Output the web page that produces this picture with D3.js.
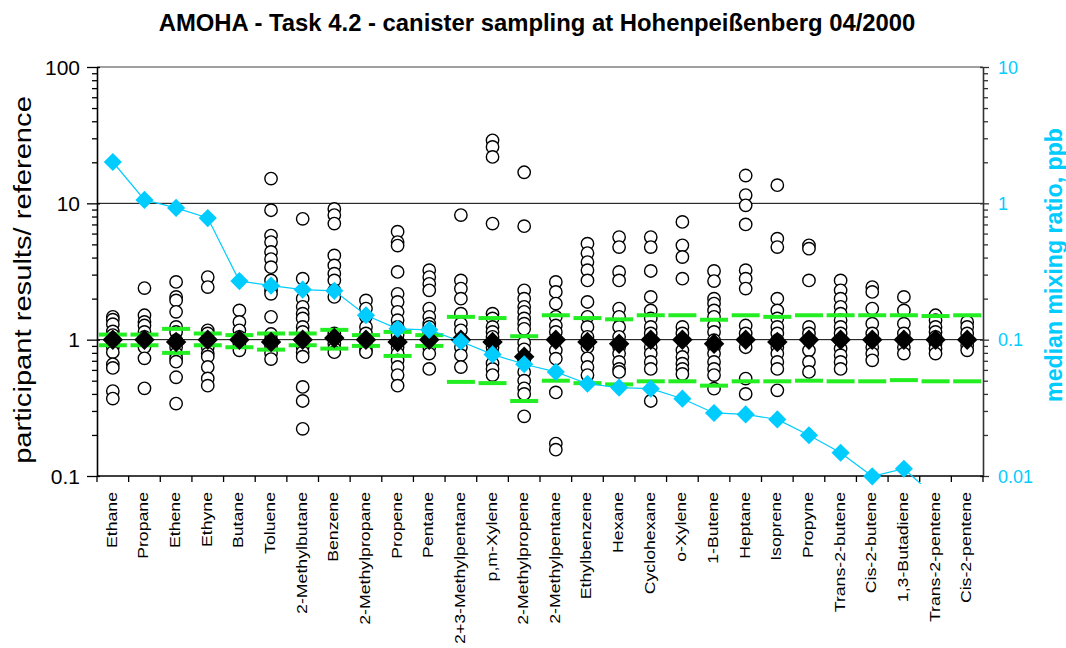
<!DOCTYPE html>
<html>
<head>
<meta charset="utf-8">
<script src="https://cdn.jsdelivr.net/npm/d3@7/dist/d3.min.js"></script>
<style>
  html, body { margin: 0; padding: 0; background: #fff; }
  svg { display: block; font-family: "Liberation Sans", Arial, sans-serif; }
</style>
</head>
<body>
<svg id="chart" width="1066" height="648"></svg>
<script>
// Compounds along the x axis
const categories = ["Ethane", "Propane", "Ethene", "Ethyne", "Butane", "Toluene", "2-Methylbutane",
  "Benzene", "2-Methylpropane", "Propene", "Pentane", "2+3-Methylpentane", "p,m-Xylene",
  "2-Methylpropene", "2-Methylpentane", "Ethylbenzene", "Hexane", "Cyclohexane", "o-Xylene",
  "1-Butene", "Heptane", "Isoprene", "Propyne", "Trans-2-butene", "Cis-2-butene", "1,3-Butadiene",
  "Trans-2-pentene", "Cis-2-pentene"];

// Participant results divided by the reference value, one list per compound
const participantRatios = [
  [1.47, 1.40, 1.30, 1.15, 1.08, 1.02, 0.97, 0.93, 0.88, 0.81, 0.66, 0.62, 0.42, 0.37],
  [2.39, 1.51, 1.35, 1.27, 1.14, 1.05, 0.96, 0.88, 0.73, 0.44],
  [2.65, 2.06, 1.94, 1.60, 1.24, 1.14, 0.99, 0.88, 0.79, 0.73, 0.69, 0.53, 0.34],
  [2.88, 2.43, 1.17, 1.11, 0.99, 0.88, 0.79, 0.75, 0.63, 0.52, 0.46],
  [1.64, 1.35, 1.17, 1.05, 0.99, 0.935, 0.835],
  [15.2, 8.9, 5.8, 5.2, 4.4, 3.9, 3.4, 2.72, 2.3, 2.17, 1.47, 1.1, 1.0, 0.9, 0.8, 0.72],
  [7.7, 2.8, 2.0, 1.74, 1.55, 1.43, 1.24, 1.14, 0.995, 0.88, 0.81, 0.75, 0.45, 0.355, 0.222],
  [9.1, 8.2, 7.1, 4.15, 3.5, 3.05, 2.72, 2.3, 2.06, 1.11, 1.02, 0.935, 0.86, 0.81],
  [1.94, 1.69, 1.47, 1.24, 1.11, 0.99, 0.91, 0.835, 0.81],
  [6.2, 5.2, 4.9, 3.14, 2.17, 1.89, 1.6, 1.39, 1.24, 1.08, 0.96, 0.88, 0.79, 0.705, 0.63, 0.55, 0.46],
  [3.23, 2.88, 2.57, 2.3, 1.69, 1.47, 1.31, 1.24, 1.11, 0.99, 0.88, 0.79, 0.61],
  [8.2, 2.72, 2.37, 2.0, 1.55, 1.31, 1.17, 0.99, 0.88, 0.77, 0.63],
  [29.0, 25.9, 21.9, 7.1, 1.55, 1.43, 1.24, 1.14, 1.05, 0.88, 0.79, 0.67, 0.61, 0.55],
  [16.9, 6.8, 2.3, 2.0, 1.74, 1.6, 1.43, 1.31, 1.2, 0.95, 0.85, 0.705, 0.58, 0.5, 0.44, 0.4, 0.274],
  [2.65, 2.24, 1.84, 1.47, 1.27, 1.14, 0.99, 0.835, 0.726, 0.41, 0.173, 0.156],
  [5.06, 4.32, 3.71, 3.23, 2.72, 1.89, 1.47, 1.24, 1.05, 0.88, 0.73, 0.63, 0.55],
  [5.66, 4.78, 3.14, 2.72, 1.69, 1.47, 1.24, 1.05, 0.88, 0.79, 0.686, 0.61, 0.58],
  [5.66, 4.78, 3.19, 2.06, 1.64, 1.43, 1.24, 1.11, 0.99, 0.88, 0.79, 0.686, 0.61, 0.355],
  [7.3, 4.92, 4.04, 2.8, 1.24, 1.11, 0.99, 0.835, 0.746, 0.667, 0.61, 0.56],
  [3.19, 2.69, 2.0, 1.84, 1.64, 1.47, 1.27, 1.14, 0.99, 0.88, 0.79, 0.686, 0.61, 0.55, 0.437],
  [16.0, 11.5, 9.67, 7.0, 3.23, 2.8, 2.37, 1.27, 1.11, 0.99, 0.88, 0.518, 0.40],
  [13.6, 5.5, 4.78, 2.0, 1.64, 1.43, 1.24, 1.11, 0.99, 0.88, 0.79, 0.686, 0.61, 0.425],
  [4.92, 4.65, 2.72, 1.24, 1.11, 0.99, 0.835, 0.686, 0.58],
  [2.72, 2.3, 2.0, 1.74, 1.55, 1.39, 1.24, 1.11, 0.99, 0.86, 0.77, 0.686, 0.61],
  [2.43, 2.24, 1.69, 1.31, 1.11, 0.99, 0.88, 0.79, 0.705],
  [2.06, 1.64, 1.31, 1.11, 0.99, 0.88, 0.79],
  [1.51, 1.39, 1.24, 1.14, 1.05, 0.935, 0.86, 0.79],
  [1.35, 1.24, 1.11, 0.99, 0.91, 0.835]
];

// Acceptance limits (upper / lower) per compound
const upperLimit = [1.09, 1.09, 1.20, 1.11, 1.08, 1.11, 1.11, 1.18, 1.08, 1.14, 1.08, 1.47, 1.44, 1.06,
  1.51, 1.44, 1.41, 1.51, 1.51, 1.40, 1.51, 1.47, 1.51, 1.51, 1.51, 1.51, 1.49, 1.51];
const lowerLimit = [0.91, 0.91, 0.80, 0.91, 0.88, 0.845, 0.91, 0.86, 0.90, 0.76, 0.90, 0.49, 0.48, 0.355,
  0.50, 0.48, 0.47, 0.495, 0.495, 0.46, 0.495, 0.495, 0.50, 0.495, 0.495, 0.505, 0.495, 0.495];

// Median of the participant ratios
const medianRatio = [1.0, 1.0, 0.96, 1.0, 1.0, 0.96, 1.0, 1.03, 1.0, 0.96, 1.0, 1.0, 0.96, 0.75,
  1.0, 0.96, 0.935, 1.0, 1.0, 0.935, 1.0, 0.96, 1.0, 1.0, 1.0, 1.0, 1.0, 1.0];

// Median mixing ratio in ppb (right axis)
const medianMixing = [2.01, 1.06, 0.925, 0.78, 0.269, 0.249, 0.233, 0.228, 0.151, 0.12, 0.118, 0.097,
  0.078, 0.066, 0.058, 0.0475, 0.0445, 0.0437, 0.0369, 0.029, 0.0283, 0.026, 0.0199, 0.0148, 0.00995,
  0.0113, 0.007, 0.006];

const leftTicks = [0.1, 1, 10, 100];
const rightTicks = [0.01, 0.1, 1, 10];

const svg = d3.select("#chart");
const plot = { left: 97, right: 983, top: 67, bottom: 476 };
const CYAN = "#00ccff";
const GREEN = "#22ee22";

const x = d3.scaleBand().domain(categories).range([plot.left, plot.right]);
const y = d3.scaleLog().domain([0.1, 100]).range([plot.bottom, plot.top]);
const yR = d3.scaleLog().domain([0.01, 10]).range([plot.bottom, plot.top]);
const cx = c => x(c) + x.bandwidth() / 2;

// Helper: stretch a text element along its own direction to a given length
function stretch(sel, tx, ty, rot, targetLen) {
  const len = sel.node().getComputedTextLength();
  const k = targetLen ? targetLen / len : 1;
  sel.attr("transform", `translate(${tx},${ty}) rotate(${rot}) scale(${k},1)`);
}

// Title
const title = svg.append("text")
  .attr("text-anchor", "middle")
  .attr("font-weight", "bold").attr("font-size", 23)
  .text("AMOHA - Task 4.2 - canister sampling at Hohenpeißenberg 04/2000");
stretch(title, 537, 31, 0, 757);

// Gridlines at decades
svg.append("g").selectAll("line")
  .data([1, 10]).join("line")
  .attr("x1", plot.left).attr("x2", plot.right)
  .attr("y1", d => y(d)).attr("y2", d => y(d))
  .attr("stroke", "#000").attr("stroke-width", 1);

// Top border of plot area
svg.append("line")
  .attr("x1", plot.left).attr("x2", plot.right)
  .attr("y1", plot.top).attr("y2", plot.top)
  .attr("stroke", "#808080").attr("stroke-width", 1.5);

// Minor tick values for the log axes
function logTicks(domain) {
  const out = [];
  for (let e = Math.log10(domain[0]); e < Math.log10(domain[1]); e++) {
    for (let m = 1; m < 10; m++) out.push(m * Math.pow(10, e));
  }
  out.push(domain[1]);
  return out;
}
const isMajor = v => Math.abs(Math.log10(v) - Math.round(Math.log10(v))) < 1e-9;

// Left axis
const leftAxis = svg.append("g")
  .attr("transform", `translate(${plot.left},0)`)
  .call(d3.axisLeft(y).tickValues(logTicks([0.1, 100])).tickFormat(() => "").tickSizeOuter(0));
leftAxis.select(".domain").attr("stroke", "#000").attr("stroke-width", 1.6);
leftAxis.selectAll(".tick line")
  .attr("x1", d => isMajor(d) ? 3 : 0)
  .attr("x2", d => isMajor(d) ? -10 : -5)
  .attr("stroke", "#000").attr("stroke-width", 1.3);
svg.append("g").selectAll("text")
  .data(leftTicks).join("text")
  .attr("x", 80).attr("y", d => y(d) + 7.5)
  .attr("text-anchor", "end").attr("font-size", 21)
  .text(d => d3.format("")(d));

// Right axis
const rightAxis = svg.append("g")
  .attr("transform", `translate(${plot.right},0)`)
  .call(d3.axisRight(yR).tickValues(logTicks([0.01, 10])).tickFormat(() => "").tickSizeOuter(0));
rightAxis.select(".domain").attr("stroke", "#333").attr("stroke-width", 1.6);
rightAxis.selectAll(".tick line")
  .attr("x1", d => isMajor(d) ? -3 : 0)
  .attr("x2", d => isMajor(d) ? 6 : 5)
  .attr("stroke", "#333").attr("stroke-width", 1.3);
svg.append("g").selectAll("text")
  .data(rightTicks).join("text")
  .attr("x", 998).attr("y", d => yR(d) + 6.5)
  .attr("font-size", 18).attr("fill", CYAN)
  .text(d => d3.format("")(d));

// Bottom axis with ticks at category boundaries
const bottom = svg.append("g");
bottom.append("line")
  .attr("x1", plot.left).attr("x2", plot.right)
  .attr("y1", plot.bottom).attr("y2", plot.bottom)
  .attr("stroke", "#000").attr("stroke-width", 1.6);
const bounds = categories.map(c => x(c)).concat([x(categories[categories.length - 1]) + x.step()]);
bottom.selectAll("line.tick")
  .data(bounds).join("line").attr("class", "tick")
  .attr("x1", d => d).attr("x2", d => d)
  .attr("y1", plot.bottom).attr("y2", plot.bottom + 6)
  .attr("stroke", "#000").attr("stroke-width", 1.3);

// Category labels, vertical
bottom.selectAll("text.cat")
  .data(categories).join("text").attr("class", "cat")
  .attr("font-size", 15)
  .attr("text-anchor", "end")
  .text(d => d)
  .each(function (d) {
    const t = d3.select(this);
    const len = this.getComputedTextLength();
    stretch(t, cx(d) + 4, 492, -90, len * 1.18);
  });

// Axis titles
const lt = svg.append("text").attr("font-size", 24).attr("text-anchor", "middle")
  .text("participant results/ reference");
stretch(lt, 31, 280, -90, 368);
const rt = svg.append("text").attr("font-size", 23).attr("font-weight", "bold")
  .attr("text-anchor", "middle").attr("fill", CYAN)
  .text("median mixing ratio, ppb");
stretch(rt, 1062, 265, -90, 274);

// Participant points
const pts = [];
categories.forEach((c, i) => participantRatios[i].forEach(v => pts.push({ c, v })));
svg.append("g").selectAll("circle")
  .data(pts).join("circle")
  .attr("cx", d => cx(d.c)).attr("cy", d => y(d.v)).attr("r", 6.2)
  .attr("fill", "#fff").attr("stroke", "#000").attr("stroke-width", 1.4);

// Limit dashes
const limits = [];
categories.forEach((c, i) => { limits.push({ c, v: upperLimit[i] }); limits.push({ c, v: lowerLimit[i] }); });
svg.append("g").selectAll("rect")
  .data(limits).join("rect")
  .attr("x", d => cx(d.c) - 14).attr("y", d => y(d.v) - 2)
  .attr("width", 28).attr("height", 4)
  .attr("fill", GREEN);

// Median ratio diamonds
svg.append("g").selectAll("path")
  .data(categories.map((c, i) => ({ c, v: medianRatio[i] }))).join("path")
  .attr("transform", d => `translate(${cx(d.c)},${y(d.v)}) rotate(45)`)
  .attr("d", d3.symbol().type(d3.symbolSquare).size(210)())
  .attr("fill", "#000");

// Median mixing ratio line (right axis), clipped just below the plot
svg.append("clipPath").attr("id", "lineClip")
  .append("rect").attr("x", plot.left).attr("y", plot.top)
  .attr("width", plot.right - plot.left).attr("height", plot.bottom - plot.top + 8);
const mix = categories.map((c, i) => ({ c, v: medianMixing[i] }));
svg.append("path")
  .datum(mix)
  .attr("clip-path", "url(#lineClip)")
  .attr("fill", "none").attr("stroke", CYAN).attr("stroke-width", 1.2)
  .attr("d", d3.line().x(d => cx(d.c)).y(d => yR(d.v)));
svg.append("g").selectAll("path")
  .data(mix.filter(d => d.v >= 0.0099)).join("path")
  .attr("transform", d => `translate(${cx(d.c)},${yR(d.v)}) rotate(45)`)
  .attr("d", d3.symbol().type(d3.symbolSquare).size(165)())
  .attr("fill", CYAN);
</script>
</body>
</html>
